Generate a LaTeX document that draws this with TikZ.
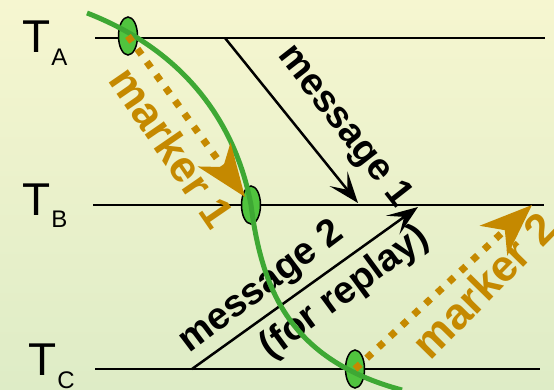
\documentclass[tikz,border=0pt]{standalone}
\usepackage{fontspec}
\setmainfont{Liberation Sans}
\usetikzlibrary{arrows.meta,shapes.geometric}
\definecolor{bgtop}{RGB}{246,246,208}
\definecolor{bgbot}{RGB}{222,236,198}
\definecolor{curvegreen}{RGB}{62,168,52}
\definecolor{blobgreen}{RGB}{80,196,62}
\definecolor{markorange}{RGB}{197,137,0}
\newcommand{\sublbl}[1]{\raisebox{-13pt}{\fontsize{24}{24}\selectfont #1}}

\begin{document}
\begin{tikzpicture}[x=1pt,y=-1pt,
  timeline/.style={line width=2.5pt},
  tlabel/.style={anchor=base west,inner sep=0pt,font=\fontsize{46}{46}\selectfont},
  msgarrow/.style={line width=2.5pt,-{Stealth[length=31pt,width=23pt,inset=14pt]}},
  msglabel/.style={inner sep=0pt,font=\bfseries\fontsize{38}{38}\selectfont},
  marklabel/.style={inner sep=0pt,text=markorange,font=\bfseries\fontsize{44}{44}\selectfont},
  markarrow/.style={draw=markorange,line width=7pt,dash pattern=on 7pt off 9pt,
    -{Stealth[length=52pt,width=40pt,inset=15pt,fill=markorange]}},
  blob/.style={ellipse,draw=black,line width=1.5pt,fill=blobgreen,
    minimum width=19pt,minimum height=38pt,inner sep=0pt},
  cut/.style={curvegreen,line width=5pt}]

% background
\shade[top color=bgtop,bottom color=bgbot] (0,0) rectangle (554,390);
\useasboundingbox (0,0) rectangle (554,390);

% process labels
\node[tlabel] (la) at (22,53) {T\kern1pt\sublbl{A}};
\node[tlabel] (lb) at (22,215) {T\kern1pt\sublbl{B}};
\node[tlabel] (lc) at (28,375) {T\kern1pt\sublbl{C}};

% time lines
\coordinate (a0) at (95,38);  \coordinate (a1) at (545,38);
\coordinate (b0) at (93,205); \coordinate (b1) at (544,205);
\coordinate (c0) at (95,369); \coordinate (c1) at (540,369);
\draw[timeline] (a0) -- (a1);
\draw[timeline] (b0) -- (b1);
\draw[timeline] (c0) -- (c1);

% messages
\coordinate (m1s) at (225,38);  \coordinate (m1e) at (358,203);
\coordinate (m2s) at (192,369); \coordinate (m2e) at (418,207);
\draw[msgarrow] (m1s) -- (m1e);
\draw[msgarrow] (m2s) -- (m2e);
\node[msglabel,rotate=-52] (t1) at (344,127) {message 1};
\node[msglabel,rotate=37] (t2) at (262,288) {message 2};
\node[msglabel,rotate=36.3] (t3) at (345,293) {(for replay)};

% checkpoints
\node[blob] (ea) at (128,36) {};
\node[blob] (eb) at (251,205) {};
\node[blob] (ec) at (355,369) {};

% recovery line
\coordinate (g0) at (87,13);
\coordinate (g1) at (402,390);
\draw[cut] (g0) .. controls (195,55) and (238,135) .. (eb.center)
  .. controls (262,290) and (290,360) .. (g1);

% markers
\coordinate (k1) at (245,197);
\coordinate (k2) at (532,205);
\draw[markarrow] (ea.center) -- (k1);
\draw[markarrow] (ec.center) -- (k2);
\node[marklabel,rotate=-55.5] (mk1) at (172,147) {marker 1};
\node[marklabel,rotate=45.5] (mk2) at (484,285) {marker 2};
\end{tikzpicture}
\end{document}
